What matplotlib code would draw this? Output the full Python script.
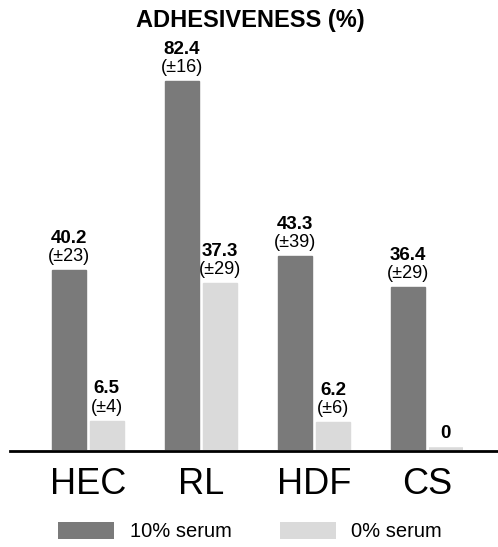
import matplotlib
matplotlib.use("Agg")
import matplotlib.pyplot as plt
from matplotlib.patches import Patch
import numpy as np

plt.rcParams['font.family'] = ['Liberation Sans', 'DejaVu Sans']

categories = ["HEC", "RL", "HDF", "CS"]
serum10 = [40.2, 82.4, 43.3, 36.4]
serum10_err = ["(±23)", "(±16)", "(±39)", "(±29)"]
serum0 = [6.5, 37.3, 6.2, 0]
serum0_err = ["(±4)", "(±29)", "(±6)", ""]
series_labels = ["10% serum", "0% serum"]
title = "ADHESIVENESS (%)"

dark = "#7a7a7a"
light = "#dadada"

W, H = 498, 547
fig = plt.figure(figsize=(W / 100, H / 100), dpi=100)
base_px = 450
top_px = 38
ax = fig.add_axes([10 / W, (H - base_px) / H, (W - 10) / W, (base_px - top_px) / H])

x = np.arange(len(categories))
bw = 0.30
off = 0.167
b1 = ax.bar(x - off, serum10, bw, color=dark, edgecolor=dark, linewidth=1)
b2 = ax.bar(x + off, serum0, bw, color=light, edgecolor=light, linewidth=1)
for rect, v in zip(b2, serum0):
    if v == 0:
        rect.set_linewidth(4)

ax.set_xlim(-0.69, 3.628)
ax.set_ylim(0, 92)
for s in ["left", "right", "top"]:
    ax.spines[s].set_visible(False)
ax.spines["bottom"].set_linewidth(2)
ax.spines["bottom"].set_position(("outward", 1))
ax.set_yticks([])
ax.set_xticks([])

def label(xs, vals, errs):
    for xi, v, e in zip(xs, vals, errs):
        if e:
            ax.annotate(f"{v:g}", (xi, v), xytext=(0, 23), textcoords="offset points",
                        ha="center", va="center", fontsize=13.5, fontweight="bold")
            ax.annotate(e, (xi, v), xytext=(0, 10), textcoords="offset points",
                        ha="center", va="center", fontsize=13)
        else:
            ax.annotate(f"{v:g}", (xi, v), xytext=(0, 12), textcoords="offset points",
                        ha="center", va="center", fontsize=13.5, fontweight="bold")

label(x - off, serum10, serum10_err)
label(x + off, serum0, serum0_err)

for xi, c in zip(x, categories):
    ax.annotate(c, (xi, 0), xytext=(0, -24.5), textcoords="offset points",
                ha="center", va="center", fontsize=26)

fig.text(250 / W, 1 - 21 / H, title, ha="center", va="center", fontsize=17, fontweight="bold")

handles = [Patch(facecolor=dark, edgecolor="none"), Patch(facecolor=light, edgecolor="none")]
fig.legend(handles, series_labels, loc="center", bbox_to_anchor=(250 / W, 1 - 531.5 / H),
           ncol=2, frameon=False, fontsize=14.5, handlelength=2.8, handleheight=0.95,
           handletextpad=0.75, columnspacing=2.4, borderpad=0, borderaxespad=0)

fig.savefig("out.png", dpi=100)
